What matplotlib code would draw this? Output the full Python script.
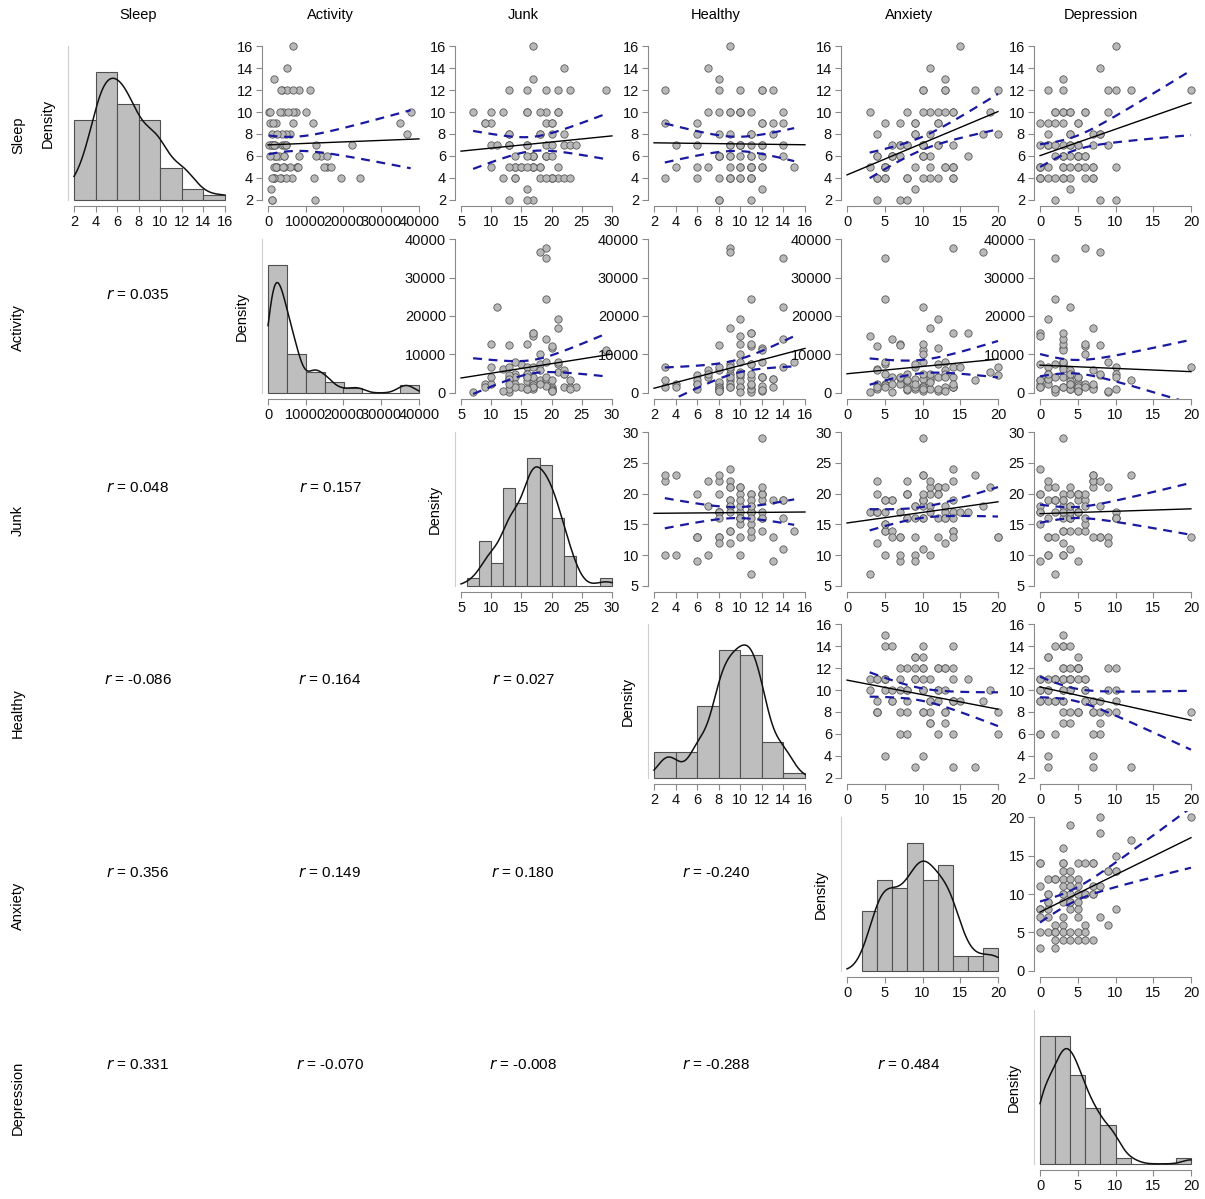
import numpy as np
import matplotlib
matplotlib.use('Agg')
import matplotlib.pyplot as plt

plt.rcParams['font.family'] = ['Liberation Sans', 'DejaVu Sans']
plt.rcParams['mathtext.fontset'] = 'custom'
plt.rcParams['mathtext.it'] = 'Liberation Sans Narrow:italic'
plt.rcParams['mathtext.rm'] = 'Liberation Sans Narrow'

# --- data (one row per participant) ---
names = ['Sleep', 'Activity', 'Junk', 'Healthy', 'Anxiety', 'Depression']

sleep = [5, 4, 4, 9, 5, 5, 4, 12, 9, 7, 7, 5, 10, 6, 9, 2, 10, 10, 13, 9,
         10, 12, 5, 7, 6, 5, 4, 6, 10, 5, 7, 8, 7, 3, 10, 4, 6, 5, 9, 6,
         7, 9, 7, 6, 5, 6, 10, 10, 6, 5, 4, 4, 5, 7, 8, 8, 8, 14, 2, 12,
         7, 16, 12, 2, 12, 12, 4, 8, 7, 7, 7, 4, 6, 8, 4, 6, 6, 4, 5, 5, 10]
activity = [15700, 3400, 1500, 2200, 7600, 14800, 19300, 3700, 6700, 4800,
            3800, 2300, 7500, 4100, 35100, 1000, 150, 6700, 1500, 11800,
            4000, 11100, 7600, 12700, 14100, 7900, 6300, 15700, 5400, 5900,
            4200, 1100, 22300, 900, 3200, 4800, 2200, 4100, 600, 2800,
            1900, 1400, 700, 4100, 2100, 1600, 37800, 10000, 2200, 1500,
            12200, 1500, 16800, 1400, 5900, 4700, 36700, 4900, 12400, 8100,
            200, 6700, 5000, 1000, 3400, 6600, 3300, 3600, 4800, 1000,
            1500, 24400, 8100, 2300, 1600, 600, 12700, 1000, 2200, 4000, 600]
junk = [17, 18, 20, 9, 15, 17, 21, 19, 10, 22, 13, 10, 21, 19, 19, 17, 7, 16, 17, 20,
        10, 29, 18, 10, 19, 14, 12, 17, 21, 18, 16, 20, 11, 16, 16, 14, 17, 14, 20, 17,
        19, 9, 20, 17, 17, 17, 19, 18, 14, 15, 20, 22, 21, 23, 22, 13, 18, 22, 13, 21,
        13, 17, 16, 16, 23, 13, 20, 13, 16, 13, 24, 19, 19, 18, 14, 20, 16, 23, 13, 16, 12]
healthy = [11, 9, 10, 6, 11, 10, 10, 13, 3, 9, 11, 4, 9, 9, 14, 11, 11, 14, 8, 12,
           7, 12, 11, 10, 14, 15, 9, 11, 10, 7, 10, 11, 14, 12, 10, 11, 8, 12, 12, 8,
           12, 13, 12, 12, 11, 8, 9, 10, 9, 10, 11, 3, 9, 4, 8, 6, 9, 7, 8, 12,
           10, 9, 10, 8, 3, 8, 6, 13, 10, 6, 9, 11, 10, 11, 9, 8, 11, 8, 6, 12, 8]
anxiety = [14, 11, 8, 7, 5, 3, 12, 10, 9, 8, 7, 5, 12, 6, 5, 4, 3, 14, 13, 12,
           11, 10, 9, 7, 6, 5, 4, 16, 19, 13, 12, 11, 10, 9, 8, 5, 4, 14, 12, 11,
           10, 9, 8, 7, 5, 4, 14, 10, 6, 5, 4, 14, 11, 10, 4, 20, 18, 11, 7, 13,
           6, 15, 13, 8, 17, 20, 8, 9, 10, 12, 14, 5, 10, 9, 14, 10, 10, 10, 14, 13, 13]
depression = [0, 0, 0, 0, 0, 0, 1, 1, 1, 1, 1, 1, 2, 2, 2, 2, 2, 3, 3, 3,
              3, 3, 3, 3, 3, 3, 3, 3, 4, 4, 4, 4, 4, 4, 4, 4, 4, 5, 5, 5,
              5, 5, 5, 5, 5, 5, 6, 6, 6, 6, 6, 7, 7, 7, 7, 8, 8, 8, 8, 9,
              9, 10, 10, 10, 12, 20, 0, 1, 1, 2, 0, 2, 3, 4, 3, 5, 6, 7, 7, 10, 9]

# correlations printed in the lower triangle (row, col)
r_values = [[],
            [0.035],
            [0.048, 0.157],
            [-0.086, 0.164, 0.027],
            [0.356, 0.149, 0.180, -0.240],
            [0.331, -0.070, -0.008, -0.288, 0.484]]

# axis ranges / ticks and histogram breaks per variable
ticks = [np.arange(2, 17, 2), np.arange(0, 40001, 10000), np.arange(5, 31, 5),
         np.arange(2, 17, 2), np.arange(0, 21, 5), np.arange(0, 21, 5)]
breaks = [np.arange(2, 17, 2), np.arange(0, 40001, 5000), np.arange(6, 31, 2),
          np.arange(2, 17, 2), np.arange(2, 21, 2), np.arange(0, 21, 2)]

data = [np.array(v, dtype=float) for v in
        [sleep, activity, junk, healthy, anxiety, depression]]
n = len(sleep)

W, H = 1205, 1199
fig = plt.figure(figsize=(W / 100, H / 100), dpi=100)

lefts = [68, 262, 455, 648, 841, 1034]
tops = [40, 233, 426, 618, 811, 1004]
aw, ah = 163, 166
label_x = [138, 330, 523, 716, 909, 1101]
label_y = [135, 328, 521, 713, 906, 1098]

axcol = '#8a8a8a'


def padded(lo, hi):
    d = (hi - lo) * 0.04
    return lo - d, hi + d


def style_axis(ax, xt, yt=None):
    for s in ['top', 'right']:
        ax.spines[s].set_visible(False)
    ax.spines['bottom'].set_bounds(xt[0], xt[-1])
    ax.spines['bottom'].set_color(axcol)
    ax.set_xticks(xt)
    ax.set_xticklabels([str(int(t)) for t in xt])
    ax.tick_params(axis='both', direction='out', length=4.5, width=0.8,
                   color=axcol, labelsize=10.5, pad=2, labelcolor='#111111')
    if yt is not None:
        ax.spines['left'].set_bounds(yt[0], yt[-1])
        ax.spines['left'].set_color(axcol)
        ax.set_yticks(yt)
        ax.set_yticklabels([str(int(t)) for t in yt])


def kde(x, grid):
    q75, q25 = np.percentile(x, [75, 25])
    bw = 0.9 * min(x.std(ddof=1), (q75 - q25) / 1.34) * len(x) ** -0.2
    z = (grid[:, None] - x[None, :]) / bw
    return np.exp(-0.5 * z ** 2).sum(axis=1) / (len(x) * bw * np.sqrt(2 * np.pi))


for i in range(6):
    for j in range(6):
        if j < i:
            continue
        ax = fig.add_axes([lefts[j] / W, 1 - (tops[i] + ah) / H, aw / W, ah / H])
        x = data[j]
        xt = ticks[j]
        ax.set_xlim(*padded(xt[0], xt[-1]))
        if i == j:
            # histogram (right-closed bins) with density curve
            b = breaks[j]
            counts = np.histogram(-x, bins=-b[::-1])[0][::-1]
            dens = counts / (n * np.diff(b))
            ax.bar(b[:-1], dens, width=np.diff(b), align='edge',
                   color='#bebebe', edgecolor='#505050', linewidth=0.8)
            g = np.linspace(xt[0], xt[-1], 400)
            ax.plot(g, kde(x, g), color='#111111', lw=1.1)
            top = dens.max() * 1.2
            ax.set_ylim(*padded(0, top))
            style_axis(ax, xt)
            ax.spines['left'].set_bounds(0, top)
            ax.spines['left'].set_color('#cfcfcf')
            ax.set_yticks([])
            ax.set_ylabel('Density', fontsize=10.5)
            ax.yaxis.set_label_coords(-0.08, 0.5)
        else:
            y = data[i]
            yt = ticks[i]
            ax.set_ylim(*padded(yt[0], yt[-1]))
            ax.scatter(x, y, s=28, c='#b8b8b8', edgecolors='#5a5a5a',
                       linewidths=0.6, zorder=2)
            # least squares fit and 95% confidence band of the mean
            b1, b0 = np.polyfit(x, y, 1)
            xl = np.array([xt[0], xt[-1]], dtype=float)
            ax.plot(xl, b0 + b1 * xl, color='black', lw=1.0, zorder=3)
            res = y - (b0 + b1 * x)
            s = np.sqrt((res ** 2).sum() / (n - 2))
            sxx = ((x - x.mean()) ** 2).sum()
            gx = np.linspace(x.min(), x.max(), 100)
            se = s * np.sqrt(1 / n + (gx - x.mean()) ** 2 / sxx)
            fit = b0 + b1 * gx
            for sign in (-1, 1):
                ax.plot(gx, fit + sign * 1.99 * se, color='#1a1aa0', lw=1.6,
                        ls=(0, (4, 3)), zorder=4)
            style_axis(ax, xt, yt)

# variable names along the top and the left side
for k, name in enumerate(names):
    fig.text(label_x[k] / W, 1 - 15 / H, name, ha='center', va='center', fontsize=10.5)
    fig.text(18 / W, 1 - label_y[k] / H, name, ha='center', va='center',
             rotation=90, fontsize=10.5)

# correlation coefficients in the lower triangle
for i in range(1, 6):
    for j in range(i):
        txt = r'$r$ = ' + '{:.3f}'.format(r_values[i][j])
        fig.text(label_x[j] / W, 1 - (label_y[i] - 33) / H, txt,
                 ha='center', va='center', fontsize=11,
                 family=['Liberation Sans Narrow', 'Liberation Sans'])

fig.savefig('out.png', dpi=100)
